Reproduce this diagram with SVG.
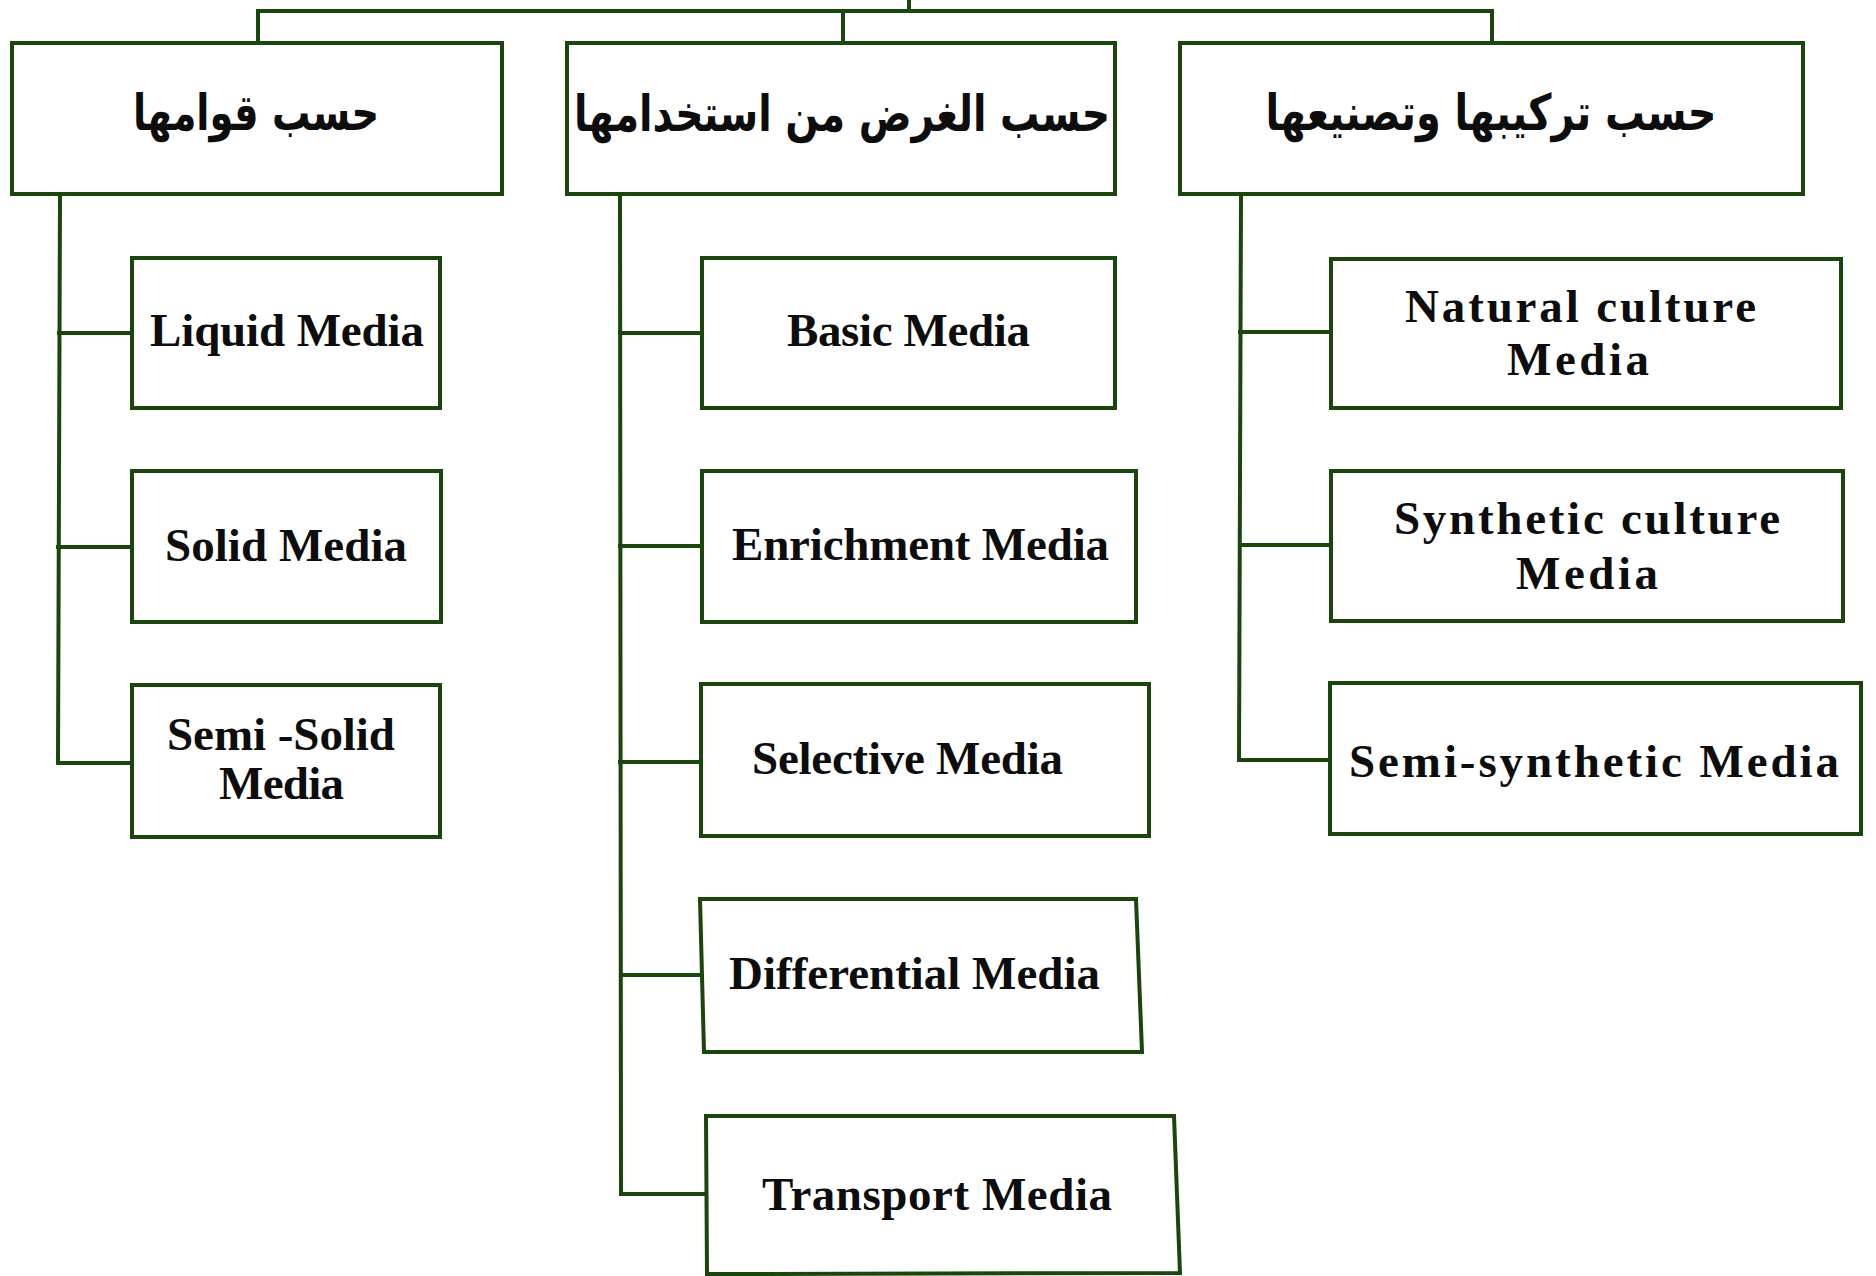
<svg xmlns="http://www.w3.org/2000/svg" width="1876" height="1276" viewBox="0 0 1876 1276">
<style>
.box{fill:#ffffff;stroke:#1a450c;stroke-width:4;stroke-linejoin:miter}
.con{fill:none;stroke:#1a450c;stroke-width:4;stroke-linecap:square}
.en{font-family:"Liberation Serif","Times New Roman",serif;font-weight:bold;font-size:47px;fill:#0d0d0d}
.ar{font-family:"DejaVu Sans","Noto Sans",sans-serif;font-weight:bold;font-size:50px;fill:#0d0d0d}
</style>
<rect x="0" y="0" width="1876" height="1276" fill="#ffffff"/>
<g id="connectors">
<path class="con" d="M909,0 V11 M258,11 H1492 M258,11 V43 M843,11 V43 M1492,11 V43"/>
<path class="con" d="M60,195 L58,763 M59,333 H132 M58,547 H132 M58,763 H132"/>
<path class="con" d="M620,195 L621,1194 M620,333 H702 M620,546 H702 M620,762 H701 M621,975 H701 M621,1194 H706"/>
<path class="con" d="M1241,195 L1239,760 M1240,332 H1331 M1240,545 H1331 M1239,760 H1330"/>
</g>
<g id="h-consistency">
<rect class="box" x="12" y="43" width="490" height="151"/>
<text class="ar" x="256" y="130" text-anchor="middle" direction="rtl" textLength="246" lengthAdjust="spacingAndGlyphs">حسب قوامها</text>
</g>
<g id="h-purpose">
<rect class="box" x="567" y="43" width="548" height="151"/>
<text class="ar" x="842" y="131" text-anchor="middle" direction="rtl" textLength="536" lengthAdjust="spacingAndGlyphs">حسب الغرض من استخدامها</text>
</g>
<g id="h-composition">
<rect class="box" x="1180" y="43" width="623" height="151"/>
<text class="ar" x="1491" y="130" text-anchor="middle" direction="rtl" textLength="451" lengthAdjust="spacingAndGlyphs">حسب تركيبها وتصنيعها</text>
</g>
<g id="n-liquid">
<rect class="box" x="132" y="258" width="308" height="150"/>
<text class="en" x="150" y="346" textLength="274">Liquid Media</text>
</g>
<g id="n-solid">
<rect class="box" x="132" y="471" width="309" height="151"/>
<text class="en" x="165" y="561" textLength="242">Solid Media</text>
</g>
<g id="n-semisolid">
<rect class="box" x="132" y="685" width="308" height="152"/>
<text class="en" x="167" y="750" textLength="228">Semi -Solid</text>
<text class="en" x="219" y="799" textLength="125">Media</text>
</g>
<g id="n-basic">
<rect class="box" x="702" y="258" width="413" height="150"/>
<text class="en" x="787" y="346" textLength="243">Basic Media</text>
</g>
<g id="n-enrichment">
<rect class="box" x="702" y="471" width="434" height="151"/>
<text class="en" x="732" y="560" textLength="377">Enrichment Media</text>
</g>
<g id="n-selective">
<rect class="box" x="701" y="684" width="448" height="152"/>
<text class="en" x="752" y="774" textLength="311">Selective Media</text>
</g>
<g id="n-differential">
<polygon class="box" points="700,899 1136,899 1142,1052 704,1052"/>
<text class="en" x="729" y="989" textLength="371">Differential Media</text>
</g>
<g id="n-transport">
<polygon class="box" points="706,1116 1174,1116 1180,1273 707,1274"/>
<text class="en" x="762" y="1210" textLength="350">Transport Media</text>
</g>
<g id="n-natural">
<rect class="box" x="1331" y="259" width="510" height="149"/>
<text class="en" x="1405" y="322" textLength="351">Natural culture</text>
<text class="en" x="1507" y="375" textLength="142">Media</text>
</g>
<g id="n-synthetic">
<rect class="box" x="1331" y="471" width="512" height="150"/>
<text class="en" x="1394" y="534" textLength="386">Synthetic culture</text>
<text class="en" x="1516" y="589" textLength="142">Media</text>
</g>
<g id="n-semisynthetic">
<rect class="box" x="1330" y="683" width="531" height="151"/>
<text class="en" x="1349" y="777" textLength="490">Semi-synthetic Media</text>
</g>
</svg>
